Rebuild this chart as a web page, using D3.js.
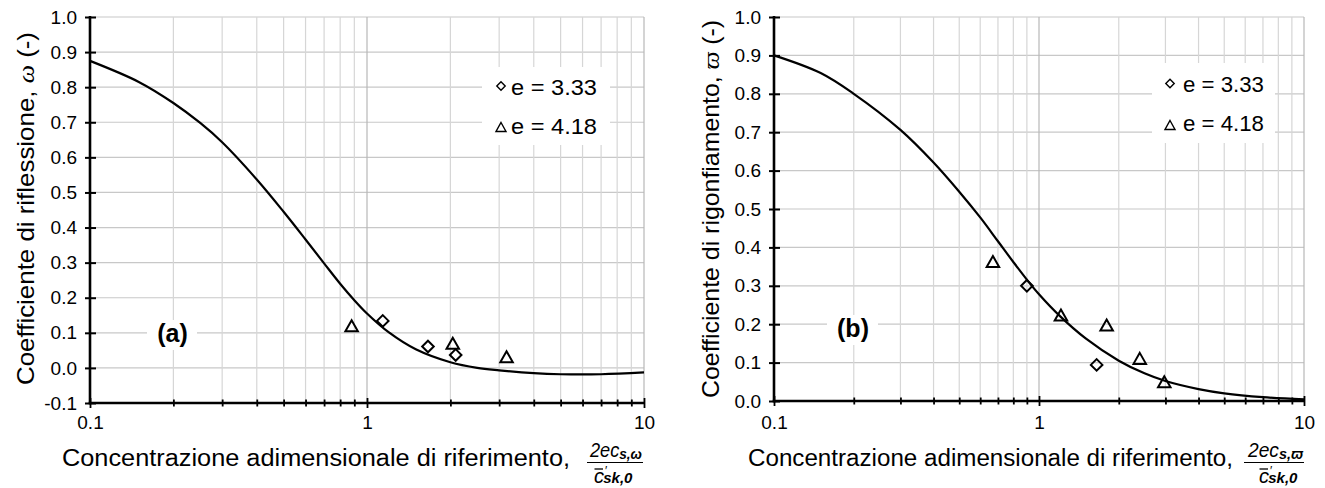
<!DOCTYPE html>
<html><head><meta charset="utf-8">
<script src="https://cdn.jsdelivr.net/npm/d3@7"></script>
<style>
body{margin:0;background:#fff}
svg{display:block}
text{font-family:"Liberation Sans",Arial,sans-serif;fill:#000}
</style>
</head><body>
<svg id="c" width="1325" height="488"></svg>
<script>
// ---------------- DATA ----------------
const xDomain = [0.1, 10];
const xTickLabels = ["0.1", "1", "10"];
const yTicksA = [-0.1, 0, 0.1, 0.2, 0.3, 0.4, 0.5, 0.6, 0.7, 0.8, 0.9, 1.0];
const yTicksB = [0, 0.1, 0.2, 0.3, 0.4, 0.5, 0.6, 0.7, 0.8, 0.9, 1.0];

// panel (a) model curve
const curveA_x = [0.1, 0.15, 0.2, 0.25, 0.3, 0.4, 0.5, 0.6, 0.7, 0.8, 0.9, 1.0, 1.2, 1.5, 2.0, 2.5, 3, 4, 5, 7, 10];
const curveA_y = [0.875, 0.815, 0.755, 0.698, 0.643, 0.537, 0.445, 0.366, 0.298, 0.240, 0.193, 0.155, 0.101, 0.053, 0.016, 0.0, -0.007, -0.015, -0.018, -0.018, -0.013];
// panel (a) measurements
const diamA_x = [1.14, 1.66, 2.09];
const diamA_y = [0.134, 0.061, 0.037];
const triA_x = [0.88, 2.04, 3.19];
const triA_y = [0.12, 0.07, 0.032];

// panel (b) model curve
const curveB_x = [0.1, 0.15, 0.2, 0.3, 0.4, 0.5, 0.6, 0.7, 0.8, 0.9, 1.0, 1.2, 1.5, 2.0, 2.5, 3, 4, 5, 7, 10];
const curveB_y = [0.9, 0.854, 0.80, 0.706, 0.621, 0.545, 0.478, 0.416, 0.362, 0.316, 0.278, 0.221, 0.163, 0.105, 0.072, 0.052, 0.031, 0.020, 0.010, 0.004];
// panel (b) measurements
const diamB_x = [0.90, 1.65];
const diamB_y = [0.30, 0.094];
const triB_x = [0.67, 1.21, 1.80, 2.40, 2.97];
const triB_y = [0.363, 0.224, 0.198, 0.111, 0.050];

const legendLabels = ["e = 3.33", "e = 4.18"];

// ---------------- DRAW ----------------
const svg = d3.select("#c");

function diamondPath(cx, cy, r) {
  return `M${cx},${cy - r}L${cx + r},${cy}L${cx},${cy + r}L${cx - r},${cy}Z`;
}
function trianglePath(cx, cy, w, h) {
  return `M${cx},${cy - h / 2}L${cx + w / 2},${cy + h / 2}L${cx - w / 2},${cy + h / 2}Z`;
}
const isMajor = d => Math.abs(Math.log10(d) - Math.round(Math.log10(d))) < 1e-6;

function panel(cfg) {
  const x = d3.scaleLog().domain(xDomain).range([cfg.x0, cfg.x1]);
  const y = d3.scaleLinear().domain(cfg.ydom).range([cfg.yb, cfg.yt]);
  const g = svg.append("g");
  const xt = x.ticks();

  // grid
  g.append("g").selectAll("line").data(cfg.yticks).join("line")
    .attr("x1", cfg.x0).attr("x2", cfg.x1)
    .attr("y1", d => y(d)).attr("y2", d => y(d))
    .attr("stroke", "#c8c8c8").attr("stroke-width", 1.2);
  g.append("g").selectAll("line").data(xt).join("line")
    .attr("x1", d => x(d)).attr("x2", d => x(d))
    .attr("y1", cfg.yb).attr("y2", cfg.yt)
    .attr("stroke", d => isMajor(d) ? "#b8b8b8" : "#d6d6d6").attr("stroke-width", 1.2);

  // white boxes behind legend and panel label
  g.append("rect").attr("x", cfg.leg.x).attr("y", cfg.leg.y)
    .attr("width", cfg.leg.w).attr("height", cfg.leg.h).attr("fill", "#fff");
  g.append("rect").attr("x", cfg.lab.bx).attr("y", cfg.lab.by)
    .attr("width", cfg.lab.bw).attr("height", cfg.lab.bh).attr("fill", "#fff");

  // curve
  const pts = cfg.cx.map((v, i) => [x(v), y(cfg.cy[i])]);
  g.append("path").attr("d", d3.line().curve(d3.curveCatmullRom.alpha(0.5))(pts))
    .attr("fill", "none").attr("stroke", "#000").attr("stroke-width", 2.2);

  // markers
  g.append("g").selectAll("path").data(cfg.dx).join("path")
    .attr("d", (d, i) => diamondPath(x(d), y(cfg.dy[i]), 5.8))
    .attr("fill", "none").attr("stroke", "#000").attr("stroke-width", 2);
  g.append("g").selectAll("path").data(cfg.tx).join("path")
    .attr("d", (d, i) => trianglePath(x(d), y(cfg.ty[i]), 12.5, 11))
    .attr("fill", "none").attr("stroke", "#000").attr("stroke-width", 2);

  // legend
  const L = cfg.leg;
  g.append("path").attr("d", diamondPath(L.mx, L.my[0], 4.2))
    .attr("fill", "none").attr("stroke", "#000").attr("stroke-width", 1.4);
  g.append("path").attr("d", trianglePath(L.mx, L.my[1], 10, 9))
    .attr("fill", "none").attr("stroke", "#000").attr("stroke-width", 1.4);
  legendLabels.forEach((t, i) => {
    g.append("text").attr("x", L.tx).attr("y", L.ty[i])
      .attr("font-size", 22).attr("textLength", L.tl).attr("lengthAdjust", "spacingAndGlyphs")
      .text(t);
  });

  // panel label
  g.append("text").attr("x", cfg.lab.x).attr("y", cfg.lab.y)
    .attr("text-anchor", "middle").attr("font-size", 25).attr("font-weight", "bold")
    .text(cfg.lab.t);

  // y axis (ticks crossing the axis + labels)
  const ya = g.append("g").attr("transform", `translate(${cfg.x0},0)`)
    .call(d3.axisLeft(y).tickValues(cfg.yticks).tickFormat(d => d.toFixed(1))
      .tickSize(5).tickSizeOuter(0).tickPadding(8));
  ya.select(".domain").attr("stroke-width", 2.6).attr("d", `M0,${cfg.yb + 1.3}V${cfg.yt - 1}`);
  ya.selectAll(".tick line").attr("x2", -5).attr("x1", 6).attr("stroke-width", 2);
  ya.selectAll("text").attr("font-size", 19).attr("font-family", "Liberation Sans, Arial, sans-serif").attr("fill", "#000");

  // x axis
  const xa = g.append("g").attr("transform", `translate(0,${cfg.yb})`)
    .call(d3.axisBottom(x).tickValues(xt)
      .tickFormat(d => isMajor(d) ? xTickLabels[Math.round(Math.log10(d)) + 1] : "")
      .tickSize(5).tickSizeOuter(0).tickPadding(9));
  xa.select(".domain").attr("stroke-width", 2.6).attr("d", `M${cfg.x0 - 1.3},0H${cfg.x1 + 1}`);
  xa.selectAll(".tick line")
    .attr("y1", d => isMajor(d) ? -5 : -3.5).attr("y2", d => isMajor(d) ? 5 : 3.5)
    .attr("stroke-width", 1.8);
  xa.selectAll("text").attr("font-size", 19).attr("y", cfg.tly)
    .attr("font-family", "Liberation Sans, Arial, sans-serif").attr("fill", "#000");

  // y title
  const yt = g.append("text")
    .attr("transform", `translate(${cfg.ytl.x},${cfg.ytl.cy}) rotate(-90)`)
    .attr("text-anchor", "middle").attr("font-size", 24)
    .attr("textLength", cfg.ytl.len).attr("lengthAdjust", "spacingAndGlyphs");
  yt.append("tspan").text(cfg.ytl.t1);
  yt.append("tspan").attr("font-family", "Liberation Serif, serif").attr("font-style", "italic").text(cfg.ytl.sym);
  yt.append("tspan").text(" (-)");

  // x title
  g.append("text").attr("x", cfg.xtl.x).attr("y", 466)
    .attr("font-size", 23.5).attr("textLength", cfg.xtl.len).attr("lengthAdjust", "spacingAndGlyphs")
    .text("Concentrazione adimensionale di riferimento,");

  // fraction
  const F = cfg.frac;
  const num = g.append("text").attr("x", F.nx).attr("y", 457)
    .attr("font-family", "Liberation Serif, serif").attr("font-style", "italic").attr("font-size", 20)
    .attr("textLength", F.nl).attr("lengthAdjust", "spacingAndGlyphs");
  num.append("tspan").text("2ec");
  num.append("tspan").attr("font-size", 15).attr("font-weight", "bold").attr("dy", 2).text("s," + F.sym);
  g.append("line").attr("x1", F.l1).attr("x2", F.l2).attr("y1", 462.5).attr("y2", 462.5)
    .attr("stroke", "#000").attr("stroke-width", 1.2);
  const den = g.append("text").attr("x", F.dx).attr("y", 482.5)
    .attr("font-family", "Liberation Serif, serif").attr("font-style", "italic").attr("font-size", 20);
  den.append("tspan").text("c");
  den.append("tspan").attr("font-size", 12).attr("font-style", "normal").attr("dx", 1).attr("dy", -8).text("′");
  den.append("tspan").attr("font-size", 15).attr("font-weight", "bold").attr("dx", -4).attr("dy", 8).text("sk,0");
  g.append("line").attr("x1", F.dx + 0.5).attr("x2", F.dx + 9).attr("y1", 469).attr("y2", 469)
    .attr("stroke", "#000").attr("stroke-width", 1.3);
}

panel({
  x0: 90, x1: 644, yb: 403, yt: 17, ydom: [-0.1, 1.0], yticks: yTicksA, tly: 13,
  cx: curveA_x, cy: curveA_y, dx: diamA_x, dy: diamA_y, tx: triA_x, ty: triA_y,
  leg: {x: 482, y: 67, w: 128, h: 78, mx: 501, my: [86, 127], tx: 511, ty: [95, 134], tl: 86},
  lab: {t: "(a)", x: 172.5, y: 342, bx: 147, by: 320, bw: 50, bh: 30},
  ytl: {x: 34, cy: 208.5, len: 353, t1: "Coefficiente di riflessione,  ", sym: "ω"},
  xtl: {x: 62, len: 508},
  frac: {nx: 590, nl: 52, sym: "ω", l1: 587, l2: 643, dx: 594}
});

panel({
  x0: 774, x1: 1304, yb: 401, yt: 17, ydom: [0, 1.0], yticks: yTicksB, tly: 15,
  cx: curveB_x, cy: curveB_y, dx: diamB_x, dy: diamB_y, tx: triB_x, ty: triB_y,
  leg: {x: 1152, y: 63, w: 123, h: 80, mx: 1170, my: [83.5, 125], tx: 1183, ty: [92, 131], tl: 81},
  lab: {t: "(b)", x: 853, y: 337, bx: 827, by: 315, bw: 51, bh: 30},
  ytl: {x: 719, cy: 209, len: 378, t1: "Coefficiente di rigonfiamento,  ", sym: "ϖ"},
  xtl: {x: 748, len: 485},
  frac: {nx: 1248, nl: 55, sym: "ϖ", l1: 1244, l2: 1304, dx: 1259}
});
</script>
</body></html>
